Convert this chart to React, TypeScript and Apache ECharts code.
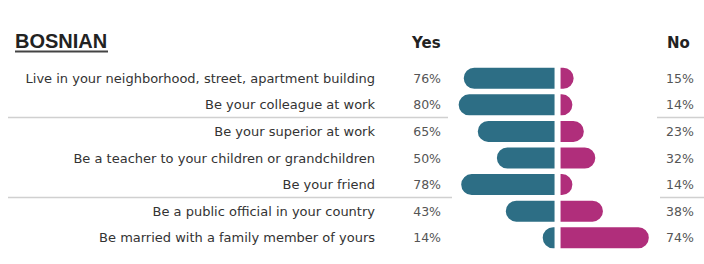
import React, { useEffect, useRef } from "react";
import * as echarts from "echarts";

const questions = [
  "Live in your neighborhood, street, apartment building",
  "Be your colleague at work",
  "Be your superior at work",
  "Be a teacher to your children or grandchildren",
  "Be your friend",
  "Be a public official in your country",
  "Be married with a family member of yours",
];
const yesValues = [76, 80, 65, 50, 78, 43, 14];
const noValues = [15, 14, 23, 32, 14, 38, 74];
const title = "BOSNIAN";
const yesHeader = "Yes";
const noHeader = "No";

const FONT = "'DejaVu Sans', sans-serif";
const TITLE_FONT = "'Liberation Sans', Arial, sans-serif";
const TEAL = "#2d6e85";
const MAGENTA = "#b02e7b";

export default function App() {
  const ref = useRef<HTMLDivElement>(null);
  useEffect(() => {
    document.body.style.margin = "0";
    if (!ref.current) return;
    const chart = echarts.init(ref.current, null, { renderer: "svg" });
    const pct = (v: number) => `${v}%`;
    const hiddenAxis = {
      axisLine: { show: false },
      axisTick: { show: false },
      splitLine: { show: false },
    };
    chart.setOption({
      animation: false,
      backgroundColor: "#ffffff",
      grid: { left: 448, right: 42, top: 65, height: 186, containLabel: false },
      xAxis: { type: "value", min: -86, max: 82, show: false },
      yAxis: [
        {
          type: "category",
          inverse: true,
          position: "left",
          data: questions,
          ...hiddenAxis,
          axisLabel: { margin: 73, fontSize: 13, color: "#333", fontFamily: FONT },
        },
        {
          type: "category",
          inverse: true,
          position: "left",
          data: yesValues.map(pct),
          ...hiddenAxis,
          axisLabel: { margin: 7, fontSize: 12.5, color: "#555", fontFamily: FONT },
        },
        {
          type: "category",
          inverse: true,
          position: "right",
          data: noValues.map(pct),
          ...hiddenAxis,
          axisLabel: { margin: 4, fontSize: 12.5, color: "#555", fontFamily: FONT },
        },
      ],
      series: [
        {
          type: "bar",
          name: "Yes",
          yAxisIndex: 0,
          data: yesValues.map((v) => -v),
          barWidth: 27,
          barGap: "-100%",
          itemStyle: {
            color: TEAL,
            borderColor: "#fff",
            borderWidth: 3,
            borderRadius: [12, 0, 0, 12],
          },
        },
        {
          type: "bar",
          name: "No",
          yAxisIndex: 0,
          data: noValues,
          barWidth: 27,
          barGap: "-100%",
          itemStyle: {
            color: MAGENTA,
            borderColor: "#fff",
            borderWidth: 3,
            borderRadius: [0, 12, 12, 0],
          },
        },
      ],
      graphic: [
        {
          type: "text",
          left: 15,
          top: 31,
          style: { text: title, font: `bold 20px ${TITLE_FONT}`, fill: "#222" },
        },
        {
          type: "line",
          shape: { x1: 15, y1: 51.5, x2: 108, y2: 51.5 },
          style: { stroke: "#444", lineWidth: 2 },
        },
        {
          type: "text",
          left: 412,
          top: 35,
          style: { text: yesHeader, font: `bold 15px ${FONT}`, fill: "#222" },
        },
        {
          type: "text",
          left: 667,
          top: 35,
          style: { text: noHeader, font: `bold 15px ${FONT}`, fill: "#222" },
        },
        {
          type: "line",
          z: -1,
          shape: { x1: 8, y1: 117.5, x2: 448, y2: 117.5 },
          style: { stroke: "#d0d0d0", lineWidth: 1.5 },
        },
        {
          type: "line",
          z: -1,
          shape: { x1: 657, y1: 117.5, x2: 704, y2: 117.5 },
          style: { stroke: "#d0d0d0", lineWidth: 1.5 },
        },
        {
          type: "line",
          z: -1,
          shape: { x1: 8, y1: 197.5, x2: 452, y2: 197.5 },
          style: { stroke: "#d0d0d0", lineWidth: 1.5 },
        },
        {
          type: "line",
          z: -1,
          shape: { x1: 660, y1: 197.5, x2: 704, y2: 197.5 },
          style: { stroke: "#d0d0d0", lineWidth: 1.5 },
        },
      ],
    });
    return () => chart.dispose();
  }, []);
  return <div ref={ref} style={{ width: 704, height: 264 }} />;
}
